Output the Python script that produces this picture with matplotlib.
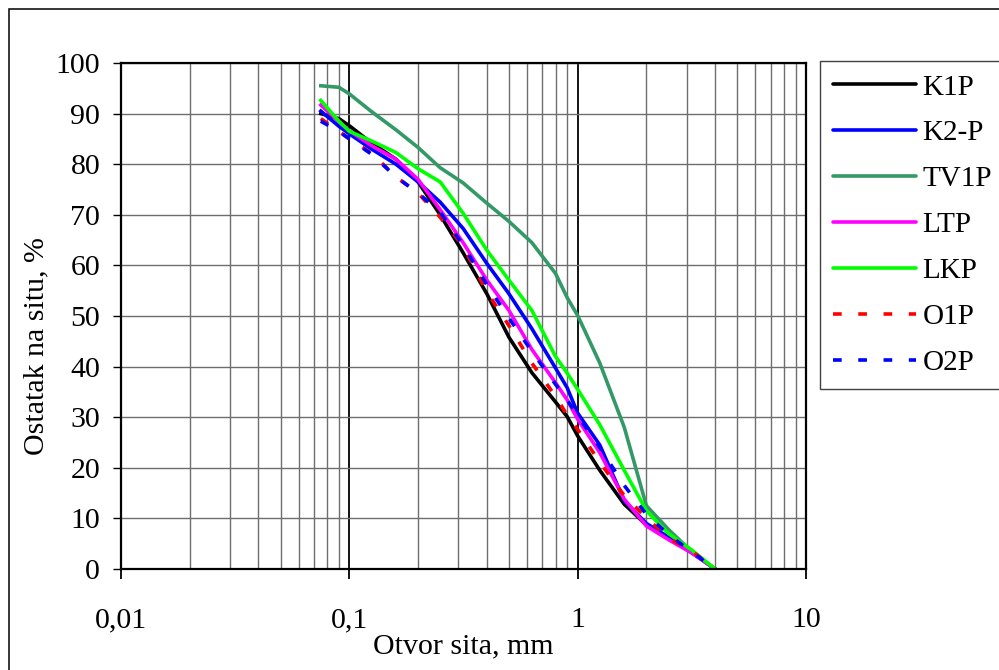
import matplotlib
matplotlib.use("Agg")
import matplotlib.pyplot as plt
from matplotlib.lines import Line2D
from matplotlib.patches import Rectangle
from matplotlib.ticker import FixedLocator, NullFormatter

plt.rcParams['font.family'] = ['Liberation Serif', 'DejaVu Serif']

# sieve openings, mm
sieve = [0.075, 0.09, 0.1, 0.125, 0.16, 0.2, 0.25, 0.315, 0.4, 0.5,
         0.63, 0.8, 0.9, 1.0, 1.25, 1.6, 2.0, 2.5, 3.15, 4.0]

# retained on sieve, %
k1p = [90, 89, 87.6, 84.2, 81, 76.5, 70, 62.5, 54.4, 45.8,
       38.8, 33, 30.1, 26.3, 19.5, 12.8, 8.7, 6.2, 3.3, 0]
k2p = [90.5, 87.5, 86, 83, 80, 76.5, 72.5, 67.3, 60.4, 54.4,
       47.5, 39.7, 35.8, 30.8, 24.5, 13.5, 9, 6.3, 3.3, 0]
tv1p = [95.5, 95.2, 93.9, 90.4, 86.8, 83.3, 79.3, 76.3, 72.3, 68.7,
        64.5, 58.4, 53.6, 50.1, 40.7, 28, 12.5, 7.8, 3.5, 0]
ltp = [91.7, 88.4, 86.6, 83.7, 81, 77, 71, 64.5, 57.1, 51.1,
       43.4, 36.8, 33.4, 29.6, 23, 13.8, 8.5, 5.8, 3.2, 0]
lkp = [92.6, 88.5, 86.5, 84.6, 82.3, 79.1, 76.5, 70.3, 63, 57.1,
       51.1, 42, 38.7, 35.5, 28.5, 19.5, 11.5, 7, 3.8, 0]
o1p = [89, 86.5, 85, 82.2, 77.5, 74.3, 69.5, 63.8, 54.8, 48.1,
       40.7, 34.1, 30.4, 27.6, 21.1, 14.5, 10.1, 6.1, 3.6, 0]
o2p = [88.5, 86.5, 85, 82, 77.5, 74.3, 70.5, 64, 56.2, 49.6,
       43, 36.5, 33.4, 30.3, 24, 16.5, 10.8, 6.8, 3.4, 0]

names = ['K1P', 'K2-P', 'TV1P', 'LTP', 'LKP', 'O1P', 'O2P']
series = [k1p, k2p, tv1p, ltp, lkp, o1p, o2p]
colors = ['#000000', '#0000FF', '#339966', '#FF00FF', '#00FF00', '#FF0000', '#0000FF']
dashed = [False, False, False, False, False, True, True]

fig = plt.figure(figsize=(9.99, 6.70), dpi=100)
fig.patch.set_facecolor('white')

# outer chart frame (only left and top edges fall inside the picture)
fig.patches.append(Rectangle((9 / 999, -0.2), 1.5, 1.2 - 9 / 670,
                             transform=fig.transFigure, fill=False,
                             edgecolor='black', linewidth=1.1, zorder=0))

ax = fig.add_axes([121 / 999, 1 - 569 / 670, 685 / 999, 506 / 670])
ax.set_xscale('log')
ax.set_xlim(0.01, 10)
ax.set_ylim(0, 100)

for name, vals, c, d in zip(names, series, colors, dashed):
    ls = (0, (2.4, 4.6)) if d else '-'
    ax.plot(sieve, vals, color=c, linewidth=2.6, linestyle=ls, label=name,
            zorder=3, solid_joinstyle='round', dash_capstyle='butt')

# grid
ax.set_yticks(range(0, 101, 10))
ax.set_xticks([0.01, 0.1, 1, 10])
ax.set_xticklabels(['0,01', '0,1', '1', '10'])
minors = [m * 10.0 ** e for e in (-2, -1, 0) for m in range(2, 10)]
ax.xaxis.set_minor_locator(FixedLocator(minors))
ax.xaxis.set_minor_formatter(NullFormatter())
ax.grid(True, axis='y', which='major', color='#6e6e6e', linewidth=1.0)
ax.grid(True, axis='x', which='major', color='black', linewidth=1.3)
ax.grid(True, axis='x', which='minor', color='#6e6e6e', linewidth=1.0)
ax.set_axisbelow(True)

for s in ax.spines.values():
    s.set_linewidth(1.6)
    s.set_color('black')
    s.set_zorder(4)

ax.tick_params(axis='x', which='major', direction='out', length=7.5, width=1.3,
               pad=20, labelsize=21.5)
ax.tick_params(axis='x', which='minor', length=0)
ax.tick_params(axis='y', which='major', direction='out', length=6, width=1.0,
               pad=9, labelsize=21.5)

ax.set_xlabel('Otvor sita, mm', fontsize=21.5)
ax.xaxis.set_label_coords(0.5, -0.127)
ax.set_ylabel('Ostatak na situ, %', fontsize=21.5)
ax.yaxis.set_label_coords(-0.105, 0.44)

leg_handles = []
for name, c, d in zip(names, colors, dashed):
    ls = (0, (2.4, 4.6)) if d else '-'
    leg_handles.append(Line2D([], [], color=c, linewidth=2.6, linestyle=ls,
                              solid_capstyle='round', dash_capstyle='butt'))
leg = fig.legend(leg_handles, names, loc='upper left',
                 bbox_to_anchor=(820 / 999, 1 - 61 / 670),
                 bbox_transform=fig.transFigure, fontsize=21,
                 handlelength=2.85, handletextpad=0.22, labelspacing=0.67,
                 borderpad=0.45, borderaxespad=0, fancybox=False,
                 framealpha=1, edgecolor='#404040')
leg.get_frame().set_linewidth(1.0)

fig.savefig('out.png', dpi=100)
